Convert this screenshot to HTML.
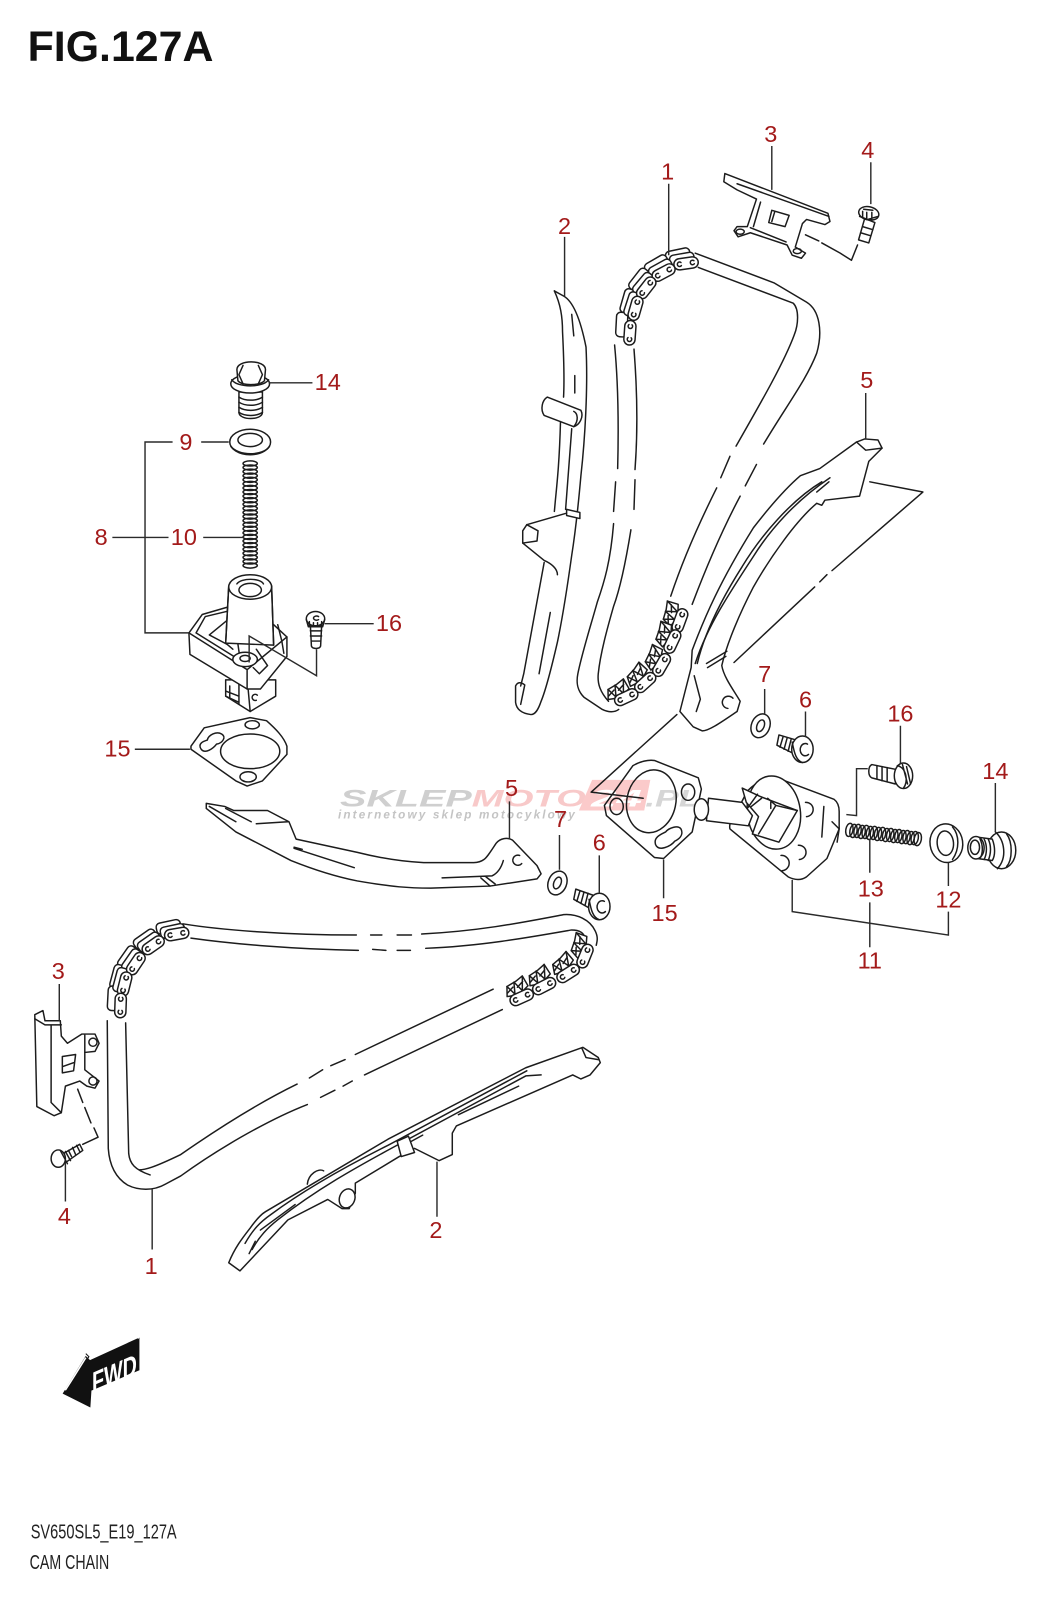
<!DOCTYPE html>
<html><head><meta charset="utf-8"><title>FIG.127A Cam Chain</title>
<style>
html,body{margin:0;padding:0;background:#fff;width:1048px;height:1600px;overflow:hidden}
svg{display:block}
.p{fill:none;stroke:#1c1c1c;stroke-width:1.45;stroke-linejoin:round;stroke-linecap:round}
.w{fill:#fff;stroke:#1c1c1c;stroke-width:1.45;stroke-linejoin:round}
.ld{fill:none;stroke:#2a2a2a;stroke-width:1.4}
.n{font:23px "Liberation Sans",sans-serif;fill:#a31a1a;text-anchor:middle}
</style></head><body>
<svg xmlns="http://www.w3.org/2000/svg" width="1048" height="1600" viewBox="0 0 1026.5 1567.4">
<defs>
<g id="l"><rect x="-12" y="-5.5" width="24" height="11" rx="5.5" class="w"/><path class="p" d="M-4.8 -1.5 A2.2 2.2 0 1 0 -4.8 1.5 M8 -1.5 A2.2 2.2 0 1 0 8 1.5"/></g>
<g id="b"><rect x="-12" y="-5.5" width="24" height="11" rx="4" class="w"/></g>
<g id="t"><path class="w" d="M-11 4 L-7 -5 L3 -6 L11 -8 L12 3 L4 6 L-4 6 Z"/><path class="p" d="M-7 -5 L-3 5 L1 -6 L5 5 L11 -8 M-9 1 L-2 -2 M2 0 L9 -3"/></g>
</defs>
<rect width="1026.5" height="1567.4" fill="#fff"/>

<!-- watermark -->
<text x="333" y="790" font-family="Liberation Sans" font-weight="700" font-style="italic" font-size="24" fill="#cfcfcf" textLength="129" lengthAdjust="spacingAndGlyphs">SKLEP</text>
<text x="462" y="790" font-family="Liberation Sans" font-weight="700" font-style="italic" font-size="24" fill="#f8c9c9" textLength="112" lengthAdjust="spacingAndGlyphs">MOTO</text>
<path d="M580 764 L637 764 L631 794 L567 794 Z" fill="#fbcaca"/>
<text x="579" y="790" font-family="Liberation Sans" font-weight="700" font-style="italic" font-size="24" fill="#fff" textLength="50" lengthAdjust="spacingAndGlyphs">24</text>
<text x="632" y="790" font-family="Liberation Sans" font-weight="700" font-style="italic" font-size="24" fill="#d6d6d6" textLength="54" lengthAdjust="spacingAndGlyphs">.PL</text>
<text x="331" y="802" font-family="Liberation Sans" font-weight="700" font-style="italic" font-size="11.5" fill="#c4c4c4" textLength="232" lengthAdjust="spacing">internetowy sklep motocyklowy</text>

<!-- title / footer -->
<text x="27" y="60" font-family="Liberation Sans" font-weight="700" font-size="42" fill="#111" textLength="182" lengthAdjust="spacingAndGlyphs">FIG.127A</text>
<text x="30" y="1507" font-family="Liberation Sans" font-size="20" fill="#222" textLength="143" lengthAdjust="spacingAndGlyphs">SV650SL5_E19_127A</text>
<text x="29" y="1537" font-family="Liberation Sans" font-size="20" fill="#222" textLength="78" lengthAdjust="spacingAndGlyphs">CAM CHAIN</text>

<!-- FWD arrow -->
<path d="M62 1365 L84 1329 L88 1333 L136 1311 L136 1342 L89 1362 L88 1378 Z" fill="#111" stroke="#111"/>
<path d="M64 1362 L84 1330 M90 1330 L133 1309 L136 1311" stroke="#fff" stroke-width="1.5" fill="none"/>
<path d="M84 1326 L87 1329 L64 1364" stroke="#111" fill="none"/>
<text x="0" y="0" transform="translate(90,1365) matrix(1,-0.43,0,1,0,0)" font-family="Liberation Sans" font-weight="700" font-size="29" fill="#fff" textLength="44" lengthAdjust="spacingAndGlyphs">FWD</text>

<!-- UPPER CHAIN lines -->
<g class="p">
<path d="M681 248 L758 277 L790 296 C803 304 806 325 800 346 C790 372 770 398 748 435"/>
<path d="M741 455 L730 476"/>
<path d="M725 486 C708 518 692 555 678 592"/>
<path d="M684 262 L777 297 C783 303 782 318 778 328 C768 355 745 395 721 437"/>
<path d="M715 447 L706 468"/>
<path d="M702 478 C686 510 670 545 657 584"/>
<path d="M602 338 C606 380 606 420 605 459"/>
<path d="M603 472 L601 501"/>
<path d="M601 513 C598 550 592 570 585 590 C578 615 570 640 566 660 C564 670 566 677 572 683 L590 695 C596 698 602 698 606 695"/>
<path d="M621 342 C624 380 625 420 622 460"/>
<path d="M622 470 L621 499"/>
<path d="M618 519 C613 550 608 575 601 594 C595 615 588 640 586 660 C585 670 588 678 596 687"/>
</g>
<!-- upper chain links: back rows -->
<use href="#b" transform="translate(664,250) rotate(-12)"/>
<use href="#b" transform="translate(643,259) rotate(-30)"/>
<use href="#b" transform="translate(626,274) rotate(-52)"/>
<use href="#b" transform="translate(615,295) rotate(-74)"/>
<use href="#b" transform="translate(609,318) rotate(-87)"/>
<use href="#b" transform="translate(668,254) rotate(-10)"/>
<use href="#b" transform="translate(647,263) rotate(-29)"/>
<use href="#b" transform="translate(630,278) rotate(-50)"/>
<use href="#b" transform="translate(619,298) rotate(-72)"/>
<!-- front -->
<use href="#l" transform="translate(672,258) rotate(-8)"/>
<use href="#l" transform="translate(650,267) rotate(-28)"/>
<use href="#l" transform="translate(633,282) rotate(-52)"/>
<use href="#l" transform="translate(622.5,302) rotate(-74)"/>
<use href="#l" transform="translate(617,326) rotate(-86)"/>
<!-- upper chain bottom -->
<use href="#t" transform="translate(657,602) rotate(-68)"/>
<use href="#t" transform="translate(650,622) rotate(-65)"/>
<use href="#t" transform="translate(640,645) rotate(-58)"/>
<use href="#t" transform="translate(623,662) rotate(-42)"/>
<use href="#t" transform="translate(604,677) rotate(-25)"/>
<use href="#l" transform="translate(666,608) rotate(-70)"/>
<use href="#l" transform="translate(658.6,628.5) rotate(-65)"/>
<use href="#l" transform="translate(648,651.5) rotate(-60)"/>
<use href="#l" transform="translate(632,668.6) rotate(-42)"/>
<use href="#l" transform="translate(613.4,683) rotate(-25)"/>

<!-- LOWER CHAIN lines -->
<g class="p">
<path d="M179 905 C215 911 280 916 349 916 M363 916 L374 916 M389 916 L403 916 M413 915 C470 912 510 904 552 896 C565 895 578 901 583 912 C586 918 585 922 584 926"/>
<path d="M187 919 C230 925 290 930 351 931 M365 930 L378 931 M389 931 L402 931 M417 929 C470 927 520 918 560 911 C568 911 572 914 573 919"/>
<path d="M105 1000 L106 1125 C107 1140 112 1153 125 1161 C135 1166 150 1167 162 1160 L177 1152 C210 1128 260 1098 301 1082 M314 1075 L328 1068 M336 1064 L345 1059 M357 1053 L492 989"/>
<path d="M123 1002 L126 1130 C127 1140 132 1146 147 1151 M136 1146 C142 1146 150 1144 177 1131 C210 1108 250 1082 291 1062 M303 1056 L316 1048 M324 1044 L338 1038 M348 1033 L483 969"/>
</g>
<use href="#b" transform="translate(165,908) rotate(-12)"/>
<use href="#b" transform="translate(142,920) rotate(-35)"/>
<use href="#b" transform="translate(125,938) rotate(-55)"/>
<use href="#b" transform="translate(115,957) rotate(-75)"/>
<use href="#b" transform="translate(111,978) rotate(-87)"/>
<use href="#b" transform="translate(169,912) rotate(-12)"/>
<use href="#b" transform="translate(146,923) rotate(-35)"/>
<use href="#b" transform="translate(129,941) rotate(-55)"/>
<use href="#b" transform="translate(118,960) rotate(-75)"/>
<use href="#l" transform="translate(173,915) rotate(-10)"/>
<use href="#l" transform="translate(150,926) rotate(-35)"/>
<use href="#l" transform="translate(133,944) rotate(-56)"/>
<use href="#l" transform="translate(122,964) rotate(-76)"/>
<use href="#l" transform="translate(118,985) rotate(-88)"/>
<use href="#t" transform="translate(505,968) rotate(-25)"/>
<use href="#t" transform="translate(527,957) rotate(-28)"/>
<use href="#t" transform="translate(550,945) rotate(-35)"/>
<use href="#t" transform="translate(567,927) rotate(-65)"/>
<use href="#l" transform="translate(511,977) rotate(-24)"/>
<use href="#l" transform="translate(533,966) rotate(-27)"/>
<use href="#l" transform="translate(556.5,953.6) rotate(-32)"/>
<use href="#l" transform="translate(573,936.6) rotate(-68)"/>

<!-- upper guide part 2 -->
<g class="p">
<path d="M543 285 L552 290 C563 296 570 320 574 340 C576 380 573 430 569 466 C566 500 563 525 560 544 C555 580 551 605 546 629 C540 655 535 675 530 687 C527 696 524 700 520 700 C512 699 506 696 505 688 L505 672 C507 668 510 668 514 671 L510 690"/>
<path d="M543 285 C549 298 551 310 551 325 C552 345 553 370 552 389"/>
<path d="M536 389 L569 402 C572 408 568 416 562 418 L533 407 C529 401 531 392 536 389 Z" fill="#fff"/>
<path d="M562 418 C567 412 566 405 562 403"/>
<path d="M549 413 C548 450 546 470 544 490 L543 501"/>
<path d="M554 503 L516 514 L512 520 L512 532 L533 549 C540 552 546 557 546 563"/>
<path d="M516 514 L527 520 L526 530 M512 532 L526 530"/>
<path d="M533 551 L513 660 L510 672"/>
<path d="M563 368 L563 385 M560 420 L554 499 M560 308 L562 329 M539 600 L528 660"/>
<path d="M555 499 L568 502 L568 508 L555 505 Z" fill="#fff"/>
</g>

<!-- upper guide part 5 -->
<g class="p">
<path d="M839 433 L847 430 L860 431 L864 439 L851 452 L842 486 L808 490 L805 495 L800 493 C780 510 755 545 738 575 C725 600 712 630 707 652 C709 664 720 678 725 687 L722 697 C710 705 695 716 688 716 L679 712 L666 697 L677 654 L678 637 C690 605 705 570 738 517 C755 495 770 478 784 466 L803 459 Z"/>
<path d="M839 433 L848 441 L864 439"/>
<path d="M813 468 C780 490 755 518 738 545 C715 580 692 615 681 650"/>
<path d="M805 472 C775 490 745 525 727 555 C708 585 690 620 683 650"/>
<path d="M812 472 L800 482"/>
<path d="M692 650 L712 638 M693 654 L711 643"/>
<path d="M680 662 L686 685 L682 697"/>
<path d="M713 694 A6 6 0 1 1 718 684"/>
<path d="M852 472 L904 482 L815 559 M810 563 L803 570 M798 575 L719 649"/>
<path d="M663 700 L579 776 L630 782"/>
</g>

<!-- top part 3 -->
<g class="p">
<path class="w" d="M710 170 L811 209 L813 217 L808 220 L790 215 L786 219 L779 242 L789 248 L785 253 L776 250 L771 240 L735 228 L723 232 L719 226 L722 222 L732 222 L741 195 L722 186 L709 178 Z"/>
<path d="M722 180 L812 212 M745 198 L738 222 M735 223 L770 237"/>
<path d="M756 206 L773 211 L769 222 L753 218 Z M759 207 L756 217"/>
<path d="M789 230 L802 236 M805 238 L823 248 M823 248 L834 255 L840 240"/>
<ellipse cx="725" cy="227" rx="4" ry="2.5"/>
<ellipse cx="781" cy="246" rx="4" ry="2.5"/>
</g>
<!-- bolt 4 top -->
<g class="p">
<path class="w" d="M847 214 L857 218 L851 238 L841 235 Z"/>
<path d="M845 222 L855 225 M843 228 L853 231"/>
<ellipse class="w" cx="851" cy="209" rx="10" ry="6.5" transform="rotate(12 851 209)"/>
<path d="M842 212 L850 215 L860 212 M846 205 L855 206 M845 207 L845 213 M849 208 L849 215 M854 208 L854 215"/>
</g>

<!-- left tensioner assembly -->
<g class="p">
<path class="w" d="M234 384 L257 384 L257 404 C257 412 234 412 234 404 Z"/>
<path d="M234 389 C240 393 251 393 257 389 M234 394 C240 398 251 398 257 394 M234 399 C240 403 251 403 257 399 M234 404 C240 408 251 408 257 404"/>
<ellipse class="w" cx="245" cy="376" rx="19" ry="9"/>
<path d="M227 372 C232 380 258 380 263 372"/>
<path class="w" d="M232 362 C232 352 260 352 260 362 L259 373 C254 378 237 378 233 373 Z"/>
<path d="M238 358 L234 367 L238 376 M253 358 L257 367 L253 376"/>
<ellipse class="w" cx="245" cy="433" rx="20" ry="12.5"/>
<ellipse cx="245" cy="431" rx="12" ry="6.5"/>
<path d="M226 437 C233 447 258 447 264 437"/>
<g fill="none">
<ellipse cx="245" cy="454" rx="7" ry="2.5"/><ellipse cx="245" cy="458" rx="7" ry="2.5"/><ellipse cx="245" cy="462" rx="7" ry="2.5"/><ellipse cx="245" cy="466" rx="7" ry="2.5"/><ellipse cx="245" cy="470" rx="7" ry="2.5"/><ellipse cx="245" cy="474" rx="7" ry="2.5"/><ellipse cx="245" cy="478" rx="7" ry="2.5"/><ellipse cx="245" cy="482" rx="7" ry="2.5"/><ellipse cx="245" cy="486" rx="7" ry="2.5"/><ellipse cx="245" cy="490" rx="7" ry="2.5"/><ellipse cx="245" cy="494" rx="7" ry="2.5"/><ellipse cx="245" cy="498" rx="7" ry="2.5"/><ellipse cx="245" cy="502" rx="7" ry="2.5"/><ellipse cx="245" cy="506" rx="7" ry="2.5"/><ellipse cx="245" cy="510" rx="7" ry="2.5"/><ellipse cx="245" cy="514" rx="7" ry="2.5"/><ellipse cx="245" cy="518" rx="7" ry="2.5"/><ellipse cx="245" cy="522" rx="7" ry="2.5"/><ellipse cx="245" cy="526" rx="7" ry="2.5"/><ellipse cx="245" cy="530" rx="7" ry="2.5"/><ellipse cx="245" cy="534" rx="7" ry="2.5"/><ellipse cx="245" cy="538" rx="7" ry="2.5"/><ellipse cx="245" cy="542" rx="7" ry="2.5"/><ellipse cx="245" cy="546" rx="7" ry="2.5"/><ellipse cx="245" cy="550" rx="7" ry="2.5"/><ellipse cx="245" cy="554" rx="7" ry="2.5"/>
</g>
<path class="w" d="M221 666 L221 682 L245 697 L270 682 L270 666 Z"/>
<path d="M243 675 L245 697 M225 672 L225 684 M221 677 L234 682 M221 682 L234 688 M234 670 L234 690"/>
<path d="M251 686 A3 3 0 1 1 252 681"/>
<path class="w" d="M185 620 L198 602 L222 595 L268 612 L281 624 L281 643 L255 675 L242 675 L186 641 Z"/>
<path d="M185 620 L242 656 L281 624 M242 656 L242 675"/>
<path d="M192 620 L201 604 L222 599 M192 620 L229 643"/>
<path d="M222 608 L205 622 L222 631"/>
<path d="M272 612 L276 628 L278 640"/>
<path class="w" d="M224 574 L221 630 L268 632 L266 574 Z" stroke="none"/>
<path d="M224 574 L221 630 M266 574 L268 632"/>
<ellipse class="w" cx="245" cy="575" rx="21" ry="12"/>
<ellipse cx="245" cy="578" rx="11" ry="6.5"/>
<path d="M232 572 C236 566 255 566 258 572"/>
<path d="M221 630 L228 636 M233 631 L235 645 M251 636 L262 652 L254 660 L248 654"/>
<ellipse class="w" cx="240" cy="646" rx="12" ry="7"/>
<ellipse cx="240" cy="645" rx="5" ry="3"/>
<path class="w" d="M304 613 L315 613 L314 633 C313 636 306 636 305 633 Z"/>
<path d="M304 618 L315 618 M304 623 L315 623 M305 628 L314 628"/>
<ellipse class="w" cx="309" cy="606" rx="9" ry="7"/>
<path d="M300 607 L302 614 L316 614 L318 607 M303 609 L303 613 M307 610 L307 614 M311 610 L311 614 M315 609 L315 613"/>
<path d="M312 604 A3 2 0 1 0 312 607"/>
<path class="w" d="M245 703 L261 706 C270 714 278 722 281 731 L281 739 L257 765 L242 770 L231 765 L187 734 L187 731 L200 713 Z"/>
<ellipse cx="245" cy="736" rx="29" ry="17"/>
<ellipse cx="247" cy="710" rx="7" ry="4"/>
<ellipse cx="243" cy="761" rx="8" ry="5"/>
<path d="M197 734 C193 728 200 726 203 725 C204 720 212 716 217 719 C222 722 218 728 212 729 C209 733 201 739 197 734 Z"/>
</g>

<!-- lower guide part 5 -->
<g class="p">
<path class="w" d="M202 787 L202 792 L231 815 L285 843 C310 853 330 859 350 863 C385 869 400 870 422 870 L480 868 L526 861 L530 856 L526 848 L502 823 C497 820 490 821 486 826 C480 835 477 840 474 842 C470 845 466 845 464 845 L415 845 C390 844 370 840 350 835 L290 822 L283 805 L262 794 L229 794 L220 790 Z"/>
<path d="M205 790 L231 805 M221 792 L246 805 M251 807 L282 805 M288 831 L347 850 M288 830 L296 832 M433 860 L482 858 C488 855 491 850 493 843 M471 860 L480 868 M476 859 L485 866"/>
<path d="M509 838 A5 5 0 1 0 511 846"/>
</g>

<!-- right gasket -->
<g class="p">
<path d="M641 745 L684 762 L687 773 L678 815 L650 841 L641 840 L594 799 L592 789 L620 750 C627 746 635 744 641 745 Z"/>
<ellipse cx="638" cy="785" rx="24" ry="31" transform="rotate(12 638 785)"/>
<ellipse cx="604" cy="790" rx="6.5" ry="8"/>
<ellipse cx="674" cy="776" rx="6.5" ry="8"/>
<path d="M642 827 C640 820 648 817 652 815 C655 811 664 808 667 812 C670 818 665 822 661 824 C657 829 645 835 642 827 Z"/>
</g>

<!-- right tensioner -->
<g class="p">
<path class="w" d="M761 762 L817 783 C821 786 822 790 822 795 L822 812 L810 841 L790 859 C784 863 778 862 772 859 L715 812 C714 808 716 803 719 800 L732 775 C742 765 752 761 761 762 Z"/>
<ellipse class="w" cx="758" cy="796" rx="26" ry="36" transform="rotate(-8 758 796)"/>
<path class="w" d="M694 782 L727 786 L737 799 L733 809 L692 804 Z"/>
<ellipse class="w" cx="687" cy="793" rx="7" ry="10.5"/>
<path class="w" d="M727 772 L744 780 L781 794 L763 825 L737 817 L743 800 L731 786 Z"/>
<path d="M742 778 L732 792 M746 782 L736 790 M752 782 L760 789 L781 794 M760 789 L743 817 M755 786 L755 792"/>
<path d="M789 786 A7 7 0 1 1 790 800"/>
<path d="M782 828 A7 7 0 1 1 783 842"/>
<path d="M765 838 A7 7 0 1 1 766 853"/>
<path d="M807 790 L805 820 M815 805 L822 812 L820 825"/>
</g>

<!-- spring 13 -->
<g class="p">
<ellipse cx="832" cy="813" rx="3.5" ry="6.5" transform="rotate(10 832 813)"/><ellipse cx="836" cy="814" rx="3.5" ry="6.5" transform="rotate(10 836 814)"/><ellipse cx="840" cy="814" rx="3.5" ry="6.5" transform="rotate(10 840 814)"/><ellipse cx="844" cy="815" rx="3.5" ry="6.5" transform="rotate(10 844 815)"/><ellipse cx="848" cy="815" rx="3.5" ry="6.5" transform="rotate(10 848 815)"/><ellipse cx="852" cy="816" rx="3.5" ry="6.5" transform="rotate(10 852 816)"/><ellipse cx="856" cy="816" rx="3.5" ry="6.5" transform="rotate(10 856 816)"/><ellipse cx="860" cy="817" rx="3.5" ry="6.5" transform="rotate(10 860 817)"/><ellipse cx="864" cy="817" rx="3.5" ry="6.5" transform="rotate(10 864 817)"/><ellipse cx="868" cy="818" rx="3.5" ry="6.5" transform="rotate(10 868 818)"/><ellipse cx="872" cy="818" rx="3.5" ry="6.5" transform="rotate(10 872 818)"/><ellipse cx="876" cy="819" rx="3.5" ry="6.5" transform="rotate(10 876 819)"/><ellipse cx="880" cy="819" rx="3.5" ry="6.5" transform="rotate(10 880 819)"/><ellipse cx="884" cy="820" rx="3.5" ry="6.5" transform="rotate(10 884 820)"/><ellipse cx="888" cy="820" rx="3.5" ry="6.5" transform="rotate(10 888 820)"/><ellipse cx="892" cy="821" rx="3.5" ry="6.5" transform="rotate(10 892 821)"/><ellipse cx="896" cy="821" rx="3.5" ry="6.5" transform="rotate(10 896 821)"/><ellipse cx="899" cy="822" rx="3.5" ry="6.5" transform="rotate(10 899 822)"/>
</g>

<!-- washer 12 -->
<g class="p">
<ellipse class="w" cx="927" cy="826" rx="16" ry="19" transform="rotate(-8 927 826)"/>
<ellipse cx="926" cy="826" rx="8" ry="12" transform="rotate(-5 926 826)"/>
<path d="M933 810 C940 818 940 832 933 842"/>
</g>
<!-- plug 14 -->
<g class="p">
<ellipse class="w" cx="981" cy="833" rx="14" ry="18"/>
<path d="M975 815 C984 823 987 840 977 851 M986 817 C992 825 992 842 986 849"/>
<path class="w" d="M957 820 L972 822 C975 830 975 838 972 843 L957 841 Z"/>
<ellipse class="w" cx="956" cy="830.5" rx="8" ry="11"/>
<path d="M960 822 C963 828 963 836 960 841 M964 822 C967 828 967 836 964 842 M968 822 C971 828 971 836 968 843"/>
<ellipse cx="955" cy="830" rx="4.5" ry="7"/>
</g>
<!-- bolt 16 right -->
<g class="p">
<path class="w" d="M854 749 L879 754 L877 768 L854 762 C850 760 850 751 854 749 Z"/>
<path d="M859 750 L859 763 M864 751 L864 765 M869 752 L869 766"/>
<ellipse class="w" cx="885" cy="760" rx="9" ry="12.5"/>
<path d="M879 750 C888 752 890 766 885 772 M884 749 L889 768 M888 751 L892 768"/>
</g>
<!-- washers 7 & bolts 6 -->
<g class="p">
<ellipse class="w" cx="745" cy="711" rx="9" ry="12" transform="rotate(22 745 711)"/>
<ellipse cx="745" cy="711" rx="3.5" ry="6" transform="rotate(22 745 711)"/>
<ellipse class="w" cx="546" cy="865" rx="9" ry="12" transform="rotate(22 546 865)"/>
<ellipse cx="546" cy="865" rx="3.5" ry="6" transform="rotate(22 546 865)"/>
<path class="w" d="M763 720 L780 725 L777 738 L761 730 Z"/>
<path d="M767 722 L764 732 M771 723 L768 734 M775 724 L772 736"/>
<ellipse class="w" cx="786" cy="734" rx="10.5" ry="13"/>
<path d="M776 727 C778 738 780 745 786 747"/>
<path d="M791 729 A5 6 0 1 0 792 739"/>
<path class="w" d="M564 871 L581 877 L578 890 L562 881 Z"/>
<path d="M568 873 L565 883 M572 874 L569 885 M576 875 L573 887"/>
<ellipse class="w" cx="587" cy="888" rx="10.5" ry="13"/>
<path d="M577 881 C579 892 581 899 587 901"/>
<path d="M592 883 A5 6 0 1 0 593 893"/>
</g>

<!-- left part 3 -->
<g class="p">
<path class="w" d="M34 994 L42 990 L44 1000 L59 1000 L60 1015 L66 1022 L80 1013 L93 1013 L97 1022 L93 1030 L83 1031 L83 1048 L97 1059 L93 1066 L85 1064 L78 1059 L64 1064 L60 1090 L53 1093 L36 1084 Z"/>
<path d="M34 998 L44 1004 L60 1004 M50 1004 L50 1080 L60 1090 M83 1014 L83 1031"/>
<path d="M61 1035 L74 1033 L72 1049 L61 1051 Z M61 1045 L72 1041"/>
<circle cx="91" cy="1021" r="4"/><circle cx="91" cy="1059" r="4"/>
<path d="M76 1067 L81 1080 M83 1085 L89 1100 M92 1105 L96 1114 L81 1121"/>
</g>
<!-- bolt 4 left -->
<g class="p">
<path class="w" d="M62 1130 L78 1121 L81 1127 L64 1139 Z"/>
<path d="M67 1127 L70 1133 M71 1124 L74 1131 M75 1122 L78 1128"/>
<ellipse class="w" cx="57" cy="1135" rx="7" ry="8.5"/>
<path d="M59 1127 L66 1140 M64 1128 L69 1137"/>
</g>

<!-- lower guide part 2 -->
<g class="p">
<path class="w" d="M224 1237 C230 1222 238 1212 245 1203 C250 1196 255 1190 260 1187 L380 1116 L515 1046 L571 1026 L586 1036 L588 1041 L578 1053 L569 1057 L561 1053 L447 1103 L443 1110 L443 1131 L430 1137 L406 1125 L391 1133 L348 1159 L348 1169 L342 1184 L335 1184 L321 1175 L282 1195 L235 1245 Z"/>
<path d="M570 1027 L574 1036 L586 1038"/>
<path d="M516 1049 L380 1122 C340 1142 300 1164 265 1190 C255 1197 248 1204 240 1218"/>
<path d="M530 1053 L515 1054 L385 1124 C350 1143 310 1165 272 1195 C262 1203 254 1211 247 1224"/>
<path d="M449 1092 L508 1064 M289 1180 L255 1205 M244 1228 L250 1216"/>
<path class="w" d="M389 1118 L400 1113 L406 1129 L393 1133 Z"/>
<path d="M403 1118 L414 1112"/>
<path d="M301 1160 C302 1150 312 1144 317 1147"/>
<ellipse class="w" cx="340" cy="1174" rx="7.5" ry="9.5" transform="rotate(20 340 1174)"/>
</g>

<!-- leaders -->
<path class="ld" d="M655 180 L655 250 M756 143 L756 186 M853 159 L853 200 M553 232 L553 290 M848 385 L848 430
M263 375 L306 375 M224 433 L197 433 M169 433 L142 433 L142 620 L185 620 M110 526.5 L165 526.5 M199 526.5 L239 526.5 M318 611 L366 611 M132 734 L186 734
M749 675 L749 700 M789 697 L789 722 M882 711 L882 748 M975 767 L975 815 M650 842 L650 880 M852 822 L852 855 M929 845 L929 868 M776 862 L776 893 L929 916 L929 893 M852 884 L852 928
M850 753 L839 753 L839 799 L829 798
M499 785 L499 822 M548 818 L548 852 M587 838 L587 875
M58 964 L58 1000 M64 1139 L64 1177 M149 1165 L149 1224 M428 1138 L428 1192
M244 649 L244 623 L310 662 L310 636"/>

<!-- labels -->
<g class="n">
<text x="654" y="176">1</text><text x="755" y="139">3</text><text x="850" y="155">4</text><text x="553" y="229">2</text><text x="849" y="380">5</text>
<text x="321" y="382">14</text><text x="182" y="441">9</text><text x="99" y="534">8</text><text x="180" y="534">10</text><text x="381" y="618">16</text><text x="115" y="741">15</text>
<text x="749" y="668">7</text><text x="789" y="693">6</text><text x="882" y="707">16</text><text x="975" y="763">14</text><text x="501" y="780">5</text><text x="549" y="810">7</text><text x="587" y="833">6</text>
<text x="651" y="902">15</text><text x="853" y="878">13</text><text x="929" y="889">12</text><text x="852" y="949">11</text>
<text x="57" y="959">3</text><text x="63" y="1199">4</text><text x="427" y="1213">2</text><text x="148" y="1248">1</text>
</g>
</svg>
</body></html>
